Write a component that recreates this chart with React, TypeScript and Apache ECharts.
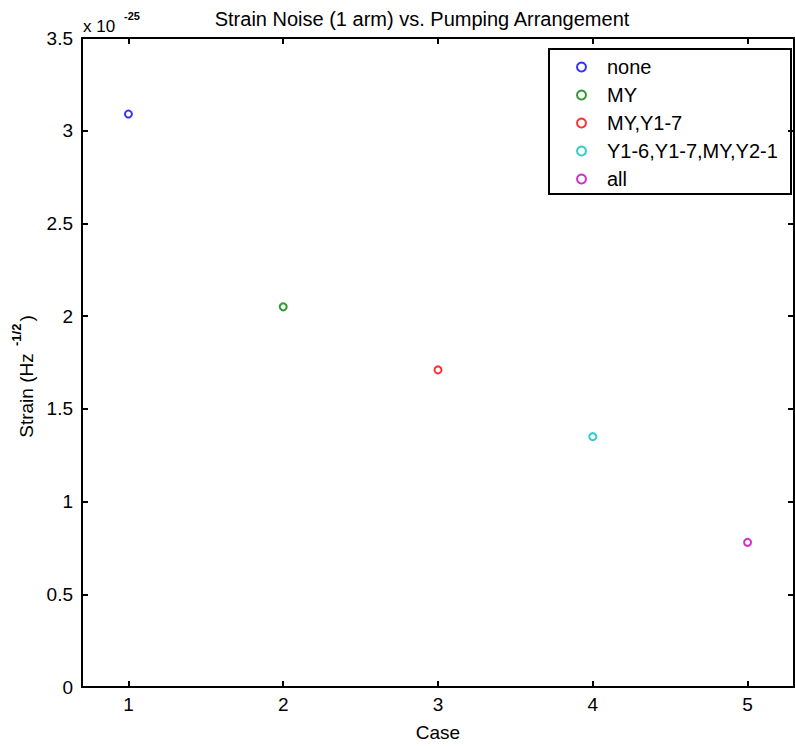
import React, { useEffect, useRef } from "react";
import * as echarts from "echarts";

const seriesNames = ["none", "MY", "MY,Y1-7", "Y1-6,Y1-7,MY,Y2-1", "all"];
const caseNumbers = [1, 2, 3, 4, 5];
const strainValues = [3.09, 2.05, 1.71, 1.35, 0.78];
const seriesColors = ["#0000ff", "#008000", "#ff0000", "#00bfbf", "#bf00bf"];
const xTicks = [1, 2, 3, 4, 5];

const FONT = "'Liberation Sans', Arial, sans-serif";

export default function App() {
  const ref = useRef<HTMLDivElement>(null);
  useEffect(() => {
    if (!ref.current) return;
    const chart = echarts.init(ref.current, undefined, { renderer: "svg" });
    const axisLine = { show: true, onZero: false, lineStyle: { color: "#000", width: 2 } };
    const tick = { show: true, inside: true, length: 6, lineStyle: { color: "#000", width: 2 } };
    const xCommon = {
      type: "value" as const,
      min: 0.7,
      max: 5.3,
      splitLine: { show: false },
      axisLine,
    };
    const yCommon = {
      type: "value" as const,
      min: 0,
      max: 3.5,
      interval: 0.5,
      splitLine: { show: false },
      axisLine,
    };
    chart.setOption({
      animation: false,
      backgroundColor: "#fff",
      textStyle: { fontFamily: FONT },
      title: {
        text: "Strain Noise (1 arm) vs. Pumping Arrangement",
        left: 417,
        textAlign: "center",
        top: 4,
        textStyle: { fontSize: 20, fontWeight: "normal", color: "#000", fontFamily: FONT },
      },
      grid: { left: 82, right: 1, top: 38, bottom: 59 },
      xAxis: [
        {
          ...xCommon,
          position: "bottom",
          name: "Case",
          nameLocation: "middle",
          nameGap: 36,
          nameTextStyle: { fontSize: 19, color: "#000", fontFamily: FONT },
          axisTick: { ...tick, customValues: xTicks },
          axisLabel: { show: true, customValues: xTicks, fontSize: 19, color: "#000", margin: 8, fontFamily: FONT },
        },
        {
          ...xCommon,
          position: "top",
          axisTick: { ...tick, customValues: xTicks },
          axisLabel: { show: false },
        },
      ],
      yAxis: [
        {
          ...yCommon,
          position: "left",
          name: "{a|Strain (Hz }{b|-1/2}{a|)}",
          nameLocation: "middle",
          nameRotate: 90,
          nameGap: 40,
          nameTextStyle: {
            color: "#000",
            padding: [0, 28, 0, 0],
            rich: {
              a: { fontSize: 19, color: "#000", fontFamily: FONT, verticalAlign: "bottom", lineHeight: 26 },
              b: { fontSize: 13, fontWeight: "bold", color: "#000", fontFamily: FONT, verticalAlign: "top", lineHeight: 26, padding: [0, 2, 10, 2] },
            },
          },
          axisTick: tick,
          axisLabel: { show: true, fontSize: 19, color: "#000", margin: 9, fontFamily: FONT },
        },
        {
          ...yCommon,
          position: "right",
          axisTick: tick,
          axisLabel: { show: false },
        },
      ],
      legend: {
        orient: "vertical",
        left: 571,
        top: 52,
        itemGap: 8,
        itemWidth: 9,
        itemHeight: 9,
        data: seriesNames.map((n) => ({ name: n, icon: "emptyCircle" })),
        itemStyle: { borderWidth: 2 },
        textStyle: { fontSize: 20, lineHeight: 20, color: "#000", fontFamily: FONT, padding: [0, 0, 0, 16] },
      },
      graphic: [
        {
          type: "rect",
          shape: { x: 549, y: 49, width: 242, height: 145 },
          style: { fill: "none", stroke: "#000", lineWidth: 2 },
          z: 100,
        },
        {
          type: "text",
          x: 83,
          y: 18,
          style: { text: "x 10", fontSize: 17, fill: "#000", fontFamily: FONT },
        },
        {
          type: "text",
          x: 124,
          y: 10,
          style: { text: "-25", fontSize: 11, fill: "#000", fontFamily: FONT, fontWeight: "bold" },
        },
      ],
      series: seriesNames.map((name, i) => ({
        name,
        type: "scatter",
        symbol: "emptyCircle",
        symbolSize: 7,
        itemStyle: { color: seriesColors[i], borderColor: seriesColors[i], borderWidth: 2 },
        data: [[caseNumbers[i], strainValues[i]]],
      })),
    });
    return () => chart.dispose();
  }, []);
  return (
    <div
      ref={ref}
      style={{ position: "absolute", left: 0, top: 0, width: 795, height: 747 }}
    />
  );
}
